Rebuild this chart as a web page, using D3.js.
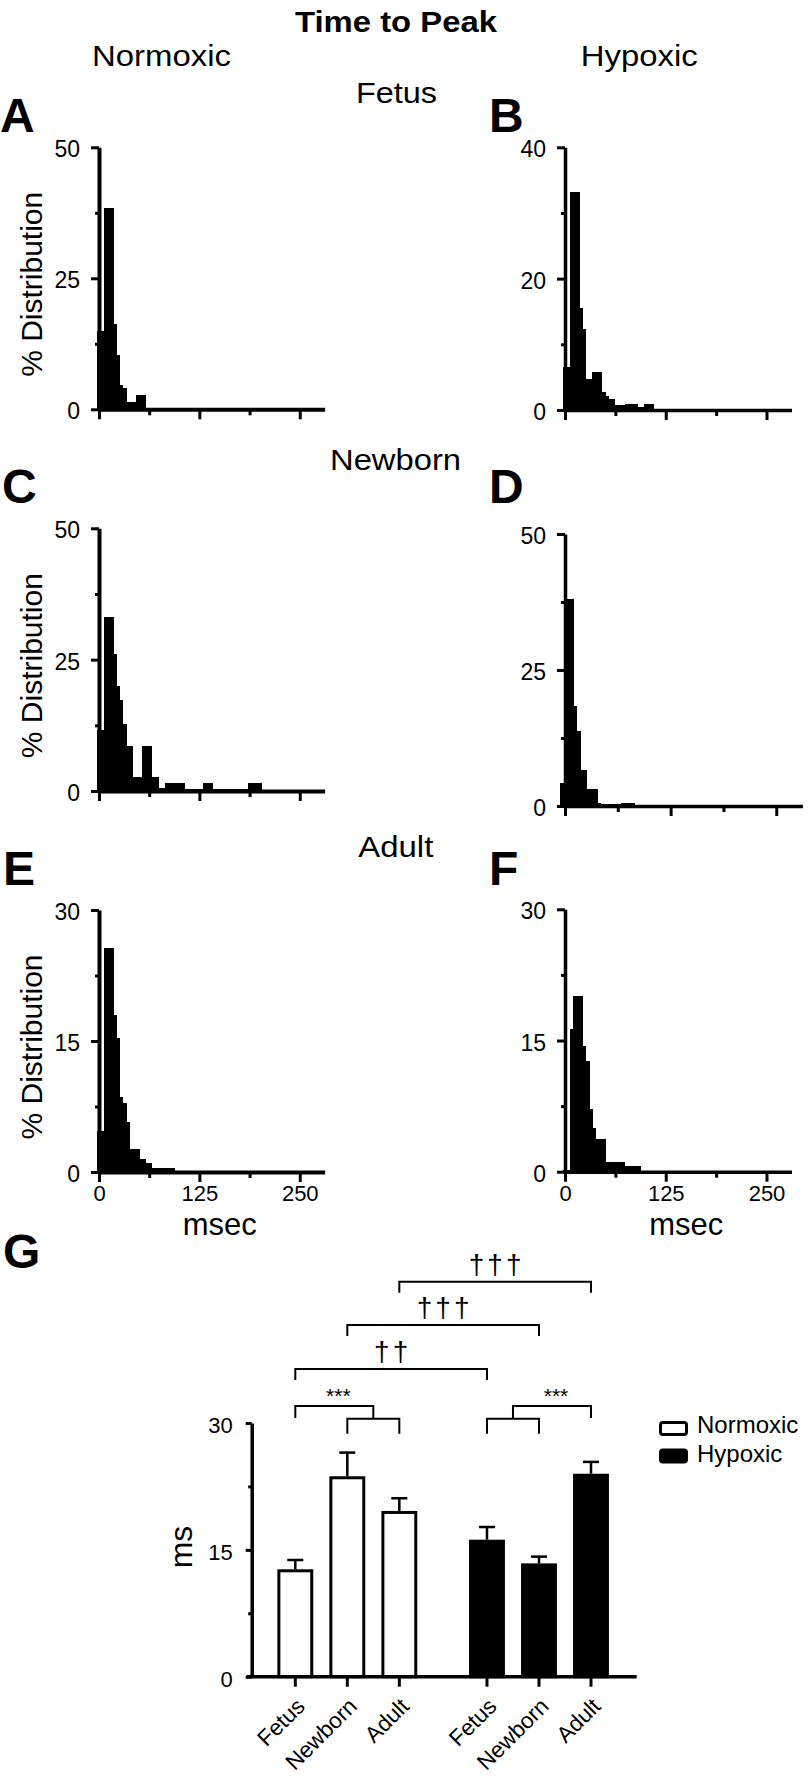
<!DOCTYPE html>
<html><head><meta charset="utf-8">
<script src="https://cdn.jsdelivr.net/npm/d3@7"></script>
<style>
body{margin:0;background:#fff}
svg{display:block}
text{font-family:"Liberation Sans",Arial,Helvetica,sans-serif;fill:#000}
</style>
</head><body>
<svg id="fig" width="808" height="1781"></svg>
<script>
// ---------------- DATA ----------------
// Histograms: % distribution per 4-ms bin; entry i is the bin centred at firstCentre + 4*i ms
const binWidthMs = 4;
const pctFetusNormoxic   = [15, 15, 38.4, 38.4, 38.4, 16.3, 10.4, 4.6, 4.0, 1.3, 1.3, 1.3, 2.7, 2.7, 2.7];
const pctFetusHypoxic    = [6.6, 6.6, 33.2, 33.2, 33.2, 15.5, 12.4, 4.7, 4.7, 5.8, 5.8, 5.8, 2.8, 2.2, 1.7, 1.7, 0.8, 0.8, 0.8, 0.9, 0.9, 0.9, 0.9, 0.4, 0.4, 0.9, 0.9, 0.9];
const pctNewbornNormoxic = [11.6, 11.6, 33.2, 33.2, 33.2, 26, 20, 17.3, 12.8, 8.6, 8.6, 2.7, 2.7, 2.7, 8.6, 8.6, 8.6, 2.7, 2.7, 0.5, 0.5,
                            1.5, 1.5, 1.5, 1.5, 1.5, 1.5, 0.3, 0.3, 0.3, 0.3, 0.3, 0.3, 1.5, 1.5, 1.5,
                            0.3, 0.3, 0.3, 0.3, 0.3, 0.3, 0.3, 0.3, 0.3, 0.3, 0.3, 1.5, 1.5, 1.5, 1.5];
const pctNewbornHypoxic  = [4.3, 4.3, 38, 38, 18.4, 13.8, 6.6, 6.6, 3.2, 3.2, 3.2, 0.6, 0.4, 0.4, 0.4, 0.4, 0.4, 0.4, 0.5, 0.5, 0.5, 0.5];
const pctAdultNormoxic   = [4.7, 4.7, 25.7, 25.7, 25.7, 18, 15.3, 8.6, 7.9, 5.7, 2.6, 2.6, 2.6, 1.5, 1.5, 1.0, 1.0, 0.5, 0.5, 0.5, 0.5, 0.5, 0.5, 0.5];
const pctAdultHypoxic    = [0.2, 0.2, 16.3, 20.1, 20.1, 20.1, 14.4, 12.7, 7.2, 5.0, 3.7, 3.7, 3.7, 1.1, 1.1, 1.1, 1.1, 1.1, 1.1, 0.6, 0.6, 0.6, 0.6, 0.6];
const firstCentreMs = {A: 0, B: 0, C: 0, D: -4, E: 0, F: 0};
const xMaxMs = 281;
const xMajorTicks = [0, 125, 250];
const xMinorTicks = [62.5, 187.5];

// Bar chart G
const ages = ["Fetus", "Newborn", "Adult"];
const conditions = ["Normoxic", "Hypoxic"];
const meanNormoxic = [12.7, 23.7, 19.6];
const semNormoxic  = [1.1, 2.8, 1.5];
const meanHypoxic  = [16.2, 13.4, 24.0];
const semHypoxic   = [1.5, 0.8, 1.4];
const gMajorTicks = [0, 15, 30];
const gMinorTicks = [7.5, 22.5];
const daggerBrackets = [
  {from: ["Normoxic", "Adult"],   to: ["Hypoxic", "Adult"],   level: 46.7, label: "†††"},
  {from: ["Normoxic", "Newborn"], to: ["Hypoxic", "Newborn"], level: 41.6, label: "†††"},
  {from: ["Normoxic", "Fetus"],   to: ["Hypoxic", "Fetus"],   level: 36.4, label: "††"}
];
const starBrackets = [
  {cond: "Normoxic", single: "Fetus", pair: ["Newborn", "Adult"], upper: 32.0, lower: 30.5, label: "***"},
  {cond: "Hypoxic",  single: "Adult", pair: ["Fetus", "Newborn"], upper: 32.0, lower: 30.5, label: "***"}
];

// ---------------- LAYOUT ----------------
const svg = d3.select("#fig");
svg.append("rect").attr("width", 808).attr("height", 1781).attr("fill", "#fff");

function txt(s, x, y, size, opts = {}) {
  const t = svg.append("text").attr("x", x).attr("y", y).text(s)
    .attr("font-size", size).attr("text-anchor", opts.anchor || "start");
  if (opts.bold) t.attr("font-weight", "bold");
  if (opts.len) t.attr("textLength", opts.len).attr("lengthAdjust", "spacingAndGlyphs");
  return t;
}

// headers
txt("Time to Peak", 396, 32, 30, {anchor: "middle", bold: true, len: 202});
txt("Normoxic", 161.5, 66, 29, {anchor: "middle", len: 139});
txt("Hypoxic", 639.3, 66, 29, {anchor: "middle", len: 117});
txt("Fetus", 396.5, 103, 29, {anchor: "middle", len: 81});
txt("Newborn", 395.5, 470, 29, {anchor: "middle", len: 131});
txt("Adult", 395.8, 857, 29, {anchor: "middle", len: 75});

const panels = [
  {id: "A", pct: pctFetusNormoxic,   yMax: 50, ticks: [0, 25, 50], minor: [12.5, 37.5], left: 99,  k: 0.803, top: 147.3, bottom: 409.3, lx: 0,   ly: 132, w: 4,   ylab: true,  xlab: false},
  {id: "B", pct: pctFetusHypoxic,    yMax: 40, ticks: [0, 20, 40], minor: [10, 30],     left: 565, k: 0.806, top: 147.3, bottom: 410,   lx: 489, ly: 132, w: 3.5, ylab: false, xlab: false},
  {id: "C", pct: pctNewbornNormoxic, yMax: 50, ticks: [0, 25, 50], minor: [12.5, 37.5], left: 99,  k: 0.803, top: 528.3, bottom: 791,   lx: 2,   ly: 503, w: 4,   ylab: true,  xlab: false},
  {id: "D", pct: pctNewbornHypoxic,  yMax: 50, ticks: [0, 25, 50], minor: [12.5, 37.5], left: 565, k: 0.845, top: 534,   bottom: 806,   lx: 489, ly: 503, w: 3.5, ylab: false, xlab: false},
  {id: "E", pct: pctAdultNormoxic,   yMax: 30, ticks: [0, 15, 30], minor: [7.5, 22.5],  left: 99,  k: 0.803, top: 910,   bottom: 1172,  lx: 3,   ly: 885, w: 4,   ylab: true,  xlab: true},
  {id: "F", pct: pctAdultHypoxic,    yMax: 30, ticks: [0, 15, 30], minor: [7.5, 22.5],  left: 565, k: 0.806, top: 909.3, bottom: 1171.7, lx: 489, ly: 885, w: 3.5, ylab: false, xlab: true}
];

function styleAxis(g, w, fs) {
  g.select(".domain").attr("stroke", "#000").attr("stroke-width", w);
  g.selectAll(".tick line").attr("stroke", "#000").attr("stroke-width", 3);
  g.selectAll(".tick text").attr("font-size", fs).attr("fill", "#000")
    .attr("font-family", '"Liberation Sans",Arial,Helvetica,sans-serif');
}

panels.forEach(p => {
  const x = d3.scaleLinear().domain([0, xMaxMs]).range([p.left, p.left + xMaxMs * p.k]);
  const y = d3.scaleLinear().domain([0, p.yMax]).range([p.bottom, p.top]);
  const bins = p.pct.map((v, i) => ({c: firstCentreMs[p.id] + binWidthMs * i, v}));
  const g = svg.append("g");
  g.selectAll("rect").data(bins).join("rect")
    .attr("x", d => x(d.c - binWidthMs / 2))
    .attr("width", d => x(d.c + binWidthMs / 2) - x(d.c - binWidthMs / 2) + 0.4)
    .attr("y", d => y(d.v))
    .attr("height", d => y(0) - y(d.v))
    .attr("fill", "#000").attr("shape-rendering", "crispEdges");

  // x axis
  const xa = svg.append("g").attr("transform", `translate(0,${p.bottom})`)
    .call(d3.axisBottom(x).tickValues(xMajorTicks).tickSize(10).tickSizeOuter(0).tickPadding(3.5)
      .tickFormat(d3.format("d")));
  styleAxis(xa, p.w, 22);
  if (!p.xlab) xa.selectAll(".tick text").remove();
  const xm = svg.append("g").attr("transform", `translate(0,${p.bottom})`)
    .call(d3.axisBottom(x).tickValues(xMinorTicks).tickSize(6));
  xm.select(".domain").remove();
  xm.selectAll(".tick text").remove();
  styleAxis(xm, p.w, 22);

  // y axis
  const ya = svg.append("g").attr("transform", `translate(${p.left},0)`)
    .call(d3.axisLeft(y).tickValues(p.ticks).tickSize(8).tickSizeOuter(0).tickPadding(11).tickFormat(d3.format("d")));
  styleAxis(ya, p.w, 23);
  ya.selectAll(".tick text").attr("dy", "0.42em");
  const ym = svg.append("g").attr("transform", `translate(${p.left},0)`)
    .call(d3.axisLeft(y).tickValues(p.minor).tickSize(4));
  ym.select(".domain").remove();
  ym.selectAll(".tick text").remove();
  styleAxis(ym, p.w, 23);

  txt(p.id, p.lx, p.ly, 48, {bold: true});
  if (p.ylab) {
    svg.append("text").attr("transform", `translate(41.7,${(p.top + p.bottom) / 2 + 6}) rotate(-90)`)
      .attr("text-anchor", "middle").attr("font-size", 30).text("% Distribution");
  }
  if (p.xlab) {
    txt("msec", (x.range()[0] + x.range()[1]) / 2 + 8, 1235, 32, {anchor: "middle", len: 74});
  }
});

// ---------------- PANEL G ----------------
txt("G", 3, 1268, 48, {bold: true});
const gx0 = d3.scaleBand().domain(conditions).range([269.3, 617]).paddingInner(0.186);
const gx1 = d3.scaleBand().domain(ages).range([0, gx0.bandwidth()]).paddingInner(0.31).paddingOuter(0.155);
const yG = d3.scaleLinear().domain([0, 30]).range([1676.7, 1423]);
const axisXLeft = 246.7, axisXRight = 636.7, axisYx = 251.7;

const barData = [];
ages.forEach((a, i) => barData.push({cond: "Normoxic", age: a, mean: meanNormoxic[i], sem: semNormoxic[i]}));
ages.forEach((a, i) => barData.push({cond: "Hypoxic", age: a, mean: meanHypoxic[i], sem: semHypoxic[i]}));
const cx = (cond, age) => gx0(cond) + gx1(age) + gx1.bandwidth() / 2;

// error bars (upper only)
svg.append("g").selectAll("g").data(barData).join("g").each(function (d) {
  const g = d3.select(this), c = cx(d.cond, d.age);
  g.append("line").attr("x1", c).attr("x2", c).attr("y1", yG(d.mean)).attr("y2", yG(d.mean + d.sem))
    .attr("stroke", "#000").attr("stroke-width", 2.5);
  g.append("line").attr("x1", c - 8).attr("x2", c + 8).attr("y1", yG(d.mean + d.sem)).attr("y2", yG(d.mean + d.sem))
    .attr("stroke", "#000").attr("stroke-width", 2.5);
});
// bars
svg.append("g").selectAll("rect").data(barData).join("rect")
  .attr("x", d => gx0(d.cond) + gx1(d.age) + 1.5)
  .attr("width", gx1.bandwidth() - 3)
  .attr("y", d => yG(d.mean) + 1.5)
  .attr("height", d => yG(0) - yG(d.mean) - 1.5)
  .attr("fill", d => d.cond === "Normoxic" ? "#fff" : "#000")
  .attr("stroke", "#000").attr("stroke-width", 3);

// axes
svg.append("line").attr("x1", axisXLeft).attr("x2", axisXRight).attr("y1", yG(0)).attr("y2", yG(0))
  .attr("stroke", "#000").attr("stroke-width", 3.5);
const gya = svg.append("g").attr("transform", `translate(${axisYx},0)`)
  .call(d3.axisLeft(yG).tickValues(gMajorTicks).tickSize(6).tickSizeOuter(0).tickPadding(13).tickFormat(d3.format("d")));
styleAxis(gya, 3.5, 22);
gya.selectAll(".tick text").attr("dy", "0.45em");
const gym = svg.append("g").attr("transform", `translate(${axisYx},0)`)
  .call(d3.axisLeft(yG).tickValues(gMinorTicks).tickSize(3.5));
gym.select(".domain").remove();
gym.selectAll(".tick text").remove();
styleAxis(gym, 3.5, 22);

// x ticks + rotated labels
barData.forEach(d => {
  const c = cx(d.cond, d.age);
  svg.append("line").attr("x1", c).attr("x2", c).attr("y1", yG(0)).attr("y2", yG(0) + 10)
    .attr("stroke", "#000").attr("stroke-width", 3);
  svg.append("text").attr("transform", `translate(${c + 11},${yG(0) + 31}) rotate(-45)`)
    .attr("text-anchor", "end").attr("font-size", 22.5).text(d.age);
});

svg.append("text").attr("transform", `translate(191.7,1547) rotate(-90)`)
  .attr("text-anchor", "middle").attr("font-size", 32).text("ms");

// significance brackets
daggerBrackets.forEach(b => {
  const x1 = cx(...b.from), x2 = cx(...b.to), yy = yG(b.level);
  svg.append("path").attr("d", `M${x1},${yy + 11}V${yy}H${x2}V${yy + 11}`)
    .attr("fill", "none").attr("stroke", "#000").attr("stroke-width", 2);
  svg.append("text").attr("x", (x1 + x2) / 2 + 1.5).attr("y", yy - 8).attr("text-anchor", "middle")
    .attr("font-size", 28).attr("letter-spacing", 3).text(b.label);
});
starBrackets.forEach(b => {
  const xs = cx(b.cond, b.single), xp1 = cx(b.cond, b.pair[0]), xp2 = cx(b.cond, b.pair[1]);
  const xmid = (xp1 + xp2) / 2, yu = yG(b.upper), yl = yG(b.lower);
  svg.append("path").attr("d", `M${xs},${yu + 12}V${yu}H${xmid}V${yl}`)
    .attr("fill", "none").attr("stroke", "#000").attr("stroke-width", 2);
  svg.append("path").attr("d", `M${xp1},${yl + 15}V${yl}H${xp2}V${yl + 15}`)
    .attr("fill", "none").attr("stroke", "#000").attr("stroke-width", 2);
  svg.append("text").attr("x", (xs + xmid) / 2 + 4).attr("y", yu - 3).attr("text-anchor", "middle")
    .attr("font-size", 21).text(b.label);
});

// legend
const legend = [{name: "Normoxic", fill: "#fff"}, {name: "Hypoxic", fill: "#000"}];
legend.forEach((l, i) => {
  svg.append("rect").attr("x", 660.5).attr("y", 1422.5 + i * 27.5).attr("width", 26).attr("height", 12)
    .attr("rx", 2.5).attr("fill", l.fill).attr("stroke", "#000").attr("stroke-width", 3);
  txt(l.name, 697, 1433 + i * 29, 24);
});
</script>
</body></html>
